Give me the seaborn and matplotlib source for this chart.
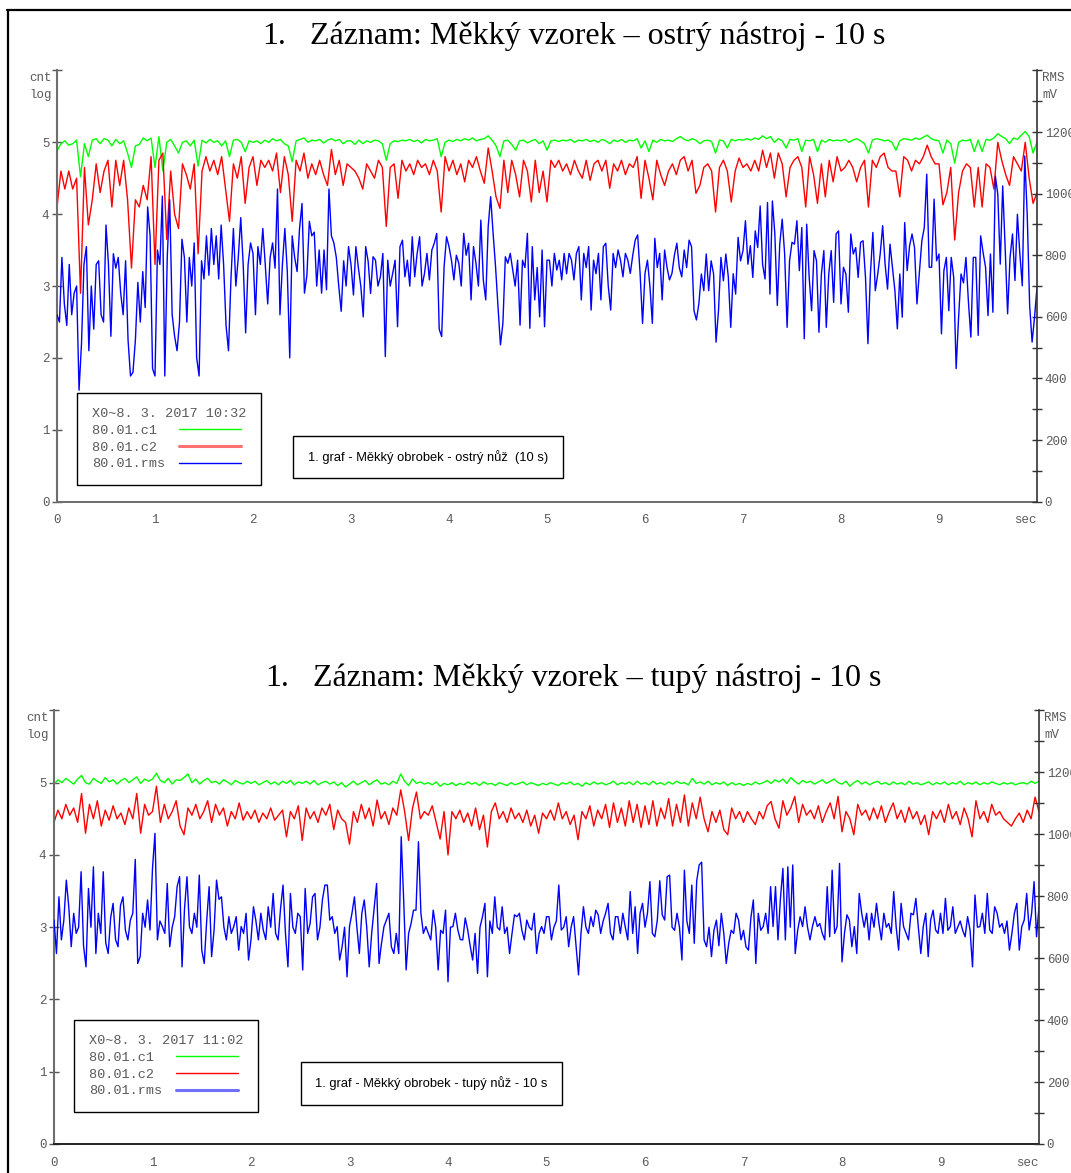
import numpy as np
import matplotlib
matplotlib.use("Agg")
import matplotlib.pyplot as plt
import seaborn as sns
from matplotlib.lines import Line2D

# ---------------- DATA ----------------
series_labels = ["80.01.c1", "80.01.c2", "80.01.rms"]
legend_titles = ["X0~8. 3. 2017 10:32", "X0~8. 3. 2017 11:02"]
chart_titles = ["Záznam: Měkký vzorek – ostrý nástroj - 10 s",
                "Záznam: Měkký vzorek – tupý nástroj - 10 s"]
box_texts = ["1. graf - Měkký obrobek - ostrý nůž  (10 s)",
             "1. graf - Měkký obrobek - tupý nůž - 10 s"]
x_ticklabels = ["0", "1", "2", "3", "4", "5", "6", "7", "8", "9", "sec"]
left_ticklabels = ["0", "1", "2", "3", "4", "5", ""]

# Chart 1 (sharp tool): c1, c2 in log cnt (0.04 s step), rms in mV (0.025 s step)
top_c1 = [4.88, 4.98, 5.02, 4.96, 4.98, 5.03, 4.52, 4.98, 4.8, 5.03, 5.05, 4.98, 5.05, 5.03, 4.95, 5.04, 4.98, 5.02, 4.85, 4.65, 4.95, 4.97, 5.06, 5.02, 5.06,
          4.65, 5.08, 4.6, 5.0, 5.04, 4.95, 4.85, 5.0, 5.02, 4.95, 5.03, 4.67, 5.03, 4.99, 5.04, 5.0, 5.02, 4.95, 5.02, 4.8, 5.03, 5.04, 5.0, 4.87, 5.02,
          5.0, 5.02, 4.98, 5.03, 5.0, 5.05, 5.02, 5.04, 4.98, 4.95, 4.73, 5.02, 5.04, 5.06, 5.0, 5.03, 5.02, 5.04, 4.99, 5.03, 5.05, 5.02, 5.04, 4.98, 5.02,
          5.02, 4.97, 5.03, 4.98, 5.02, 5.0, 5.03, 5.02, 4.98, 4.75, 4.98, 5.02, 5.01, 5.03, 5.02, 5.04, 5.01, 5.03, 4.99, 5.04, 5.02, 5.03, 5.05, 4.8, 5.0,
          5.03, 5.01, 5.04, 5.02, 5.05, 5.03, 5.06, 5.02, 5.04, 5.05, 5.09, 5.03, 4.95, 4.8, 5.02, 5.03, 4.97, 4.89, 5.02, 5.03, 4.99, 5.02, 5.04, 4.98, 5.02,
          4.89, 5.02, 5.03, 5.01, 5.03, 5.02, 5.04, 5.0, 5.03, 5.02, 5.04, 5.01, 5.03, 5.0, 5.04, 5.02, 4.98, 5.03, 5.01, 5.04, 5.0, 5.03, 5.02, 5.05, 4.92,
          5.02, 4.87, 5.03, 5.0, 5.04, 5.02, 5.03, 5.01, 5.05, 5.08, 5.04, 5.02, 5.05, 5.03, 4.98, 5.02, 5.03, 5.01, 4.85, 5.03, 5.02, 4.92, 5.04, 5.02, 5.04,
          5.03, 5.05, 5.03, 5.06, 5.04, 5.09, 5.05, 5.08, 5.0, 5.05, 5.02, 4.92, 5.04, 5.03, 5.05, 4.87, 5.03, 5.02, 5.04, 4.87, 5.03, 5.0, 5.04, 5.02, 5.03,
          5.02, 5.04, 5.0, 5.03, 5.05, 5.02, 4.98, 4.85, 5.03, 5.05, 5.04, 5.02, 5.03, 5.0, 4.89, 5.02, 5.05, 5.04, 5.03, 5.06, 5.04, 5.07, 5.1, 5.05, 5.03,
          5.02, 4.85, 5.03, 4.98, 4.71, 5.0, 5.03, 5.02, 5.04, 4.87, 5.03, 4.87, 5.04, 5.03, 5.06, 5.12, 5.08, 5.05, 4.98, 5.06, 5.04, 5.1, 5.15, 5.08, 4.85, 5.0]

top_c2 = [4.1, 4.6, 4.35, 4.6, 4.35, 4.5, 2.9, 4.65, 3.85, 4.2, 4.7, 4.3, 4.6, 4.75, 4.1, 4.75, 4.4, 4.75, 4.2, 3.25, 4.2, 4.1, 4.4, 4.2, 4.8,
          3.3, 4.75, 4.85, 3.65, 4.6, 4.0, 3.8, 4.7, 4.55, 4.35, 4.7, 3.45, 4.6, 4.8, 4.6, 4.75, 4.55, 4.8, 4.35, 3.9, 4.7, 4.5, 4.8, 4.15, 4.65,
          4.8, 4.4, 4.75, 4.65, 4.75, 4.6, 4.85, 4.3, 4.8, 4.55, 3.9, 4.75, 4.6, 4.85, 4.5, 4.7, 4.55, 4.75, 4.55, 4.4, 4.9, 4.55, 4.75, 4.4, 4.7,
          4.65, 4.6, 4.5, 4.35, 4.7, 4.6, 4.5, 4.75, 4.65, 3.83, 4.65, 4.7, 4.22, 4.75, 4.6, 4.7, 4.55, 4.75, 4.65, 4.7, 4.55, 4.75, 4.6, 4.03, 4.8,
          4.6, 4.75, 4.55, 4.7, 4.45, 4.75, 4.65, 4.8, 4.6, 4.43, 4.92, 4.6, 4.24, 4.08, 4.75, 4.3, 4.75, 4.55, 4.24, 4.75, 4.6, 4.17, 4.75, 4.3, 4.6,
          4.17, 4.75, 4.65, 4.75, 4.6, 4.7, 4.55, 4.75, 4.6, 4.5, 4.75, 4.47, 4.7, 4.75, 4.6, 4.75, 4.36, 4.7, 4.6, 4.75, 4.55, 4.7, 4.65, 4.8, 4.22,
          4.75, 4.5, 4.2, 4.75, 4.55, 4.4, 4.6, 4.7, 4.55, 4.75, 4.8, 4.6, 4.75, 4.29, 4.4, 4.65, 4.7, 4.6, 4.03, 4.65, 4.75, 4.6, 4.17, 4.6, 4.78,
          4.65, 4.7, 4.6, 4.75, 4.6, 4.89, 4.65, 4.85, 4.5, 4.85, 4.7, 4.24, 4.65, 4.75, 4.8, 4.65, 4.1, 4.8, 4.55, 4.15, 4.7, 4.24, 4.75, 4.45, 4.8,
          4.6, 4.65, 4.75, 4.65, 4.45, 4.65, 4.75, 4.1, 4.75, 4.65, 4.8, 4.85, 4.65, 4.6, 4.6, 4.24, 4.8, 4.75, 4.6, 4.75, 4.7, 4.8, 4.96, 4.8, 4.7,
          4.7, 4.13, 4.3, 4.65, 3.64, 4.3, 4.6, 4.7, 4.65, 4.1, 4.65, 4.1, 4.7, 4.65, 4.35, 5.0, 4.75, 4.55, 4.4, 4.8, 4.7, 4.6, 5.0, 4.5, 4.15, 4.3]

top_rms = [607, 583, 793, 642, 572, 770, 607, 677, 700, 362, 513, 770, 828, 490, 700, 560, 770, 782, 607, 583,
           898, 770, 537, 805, 758, 793, 677, 607, 782, 525, 408, 420, 525, 712, 583, 747, 630, 957, 863, 432, 408,
           817, 770, 992, 408, 793, 980, 607, 537, 490, 583, 852, 793, 583, 793, 700, 840, 467, 408, 782, 723,
           863, 735, 887, 770, 863, 723, 898, 770, 572, 490, 723, 887, 700, 793, 922, 770, 548, 770, 840, 805,
           607, 828, 770, 887, 770, 642, 793, 840, 758, 1015, 607, 770, 887, 747, 467, 863, 793, 747, 887, 968,
           677, 735, 910, 863, 875, 700, 817, 677, 817, 688, 1015, 863, 840, 793, 700, 618, 782, 700, 828, 770,
           671, 828, 760, 700, 600, 828, 780, 676, 795, 784, 700, 730, 806, 471, 784, 700, 741, 784, 568, 828,
           849, 730, 784, 700, 860, 730, 806, 860, 700, 741, 806, 720, 817, 839, 871, 560, 536, 763, 860, 828,
           784, 720, 800, 774, 700, 871, 800, 839, 655, 828, 774, 700, 914, 720, 655, 893, 990, 871, 763, 633,
           509, 579, 795, 774, 806, 752, 700, 784, 573, 784, 760, 871, 563, 828, 655, 760, 600, 817, 568, 784,
           784, 700, 806, 752, 784, 720, 806, 740, 806, 784, 720, 806, 828, 655, 806, 760, 828, 622, 784, 740,
           806, 655, 828, 839, 700, 622, 806, 760, 817, 784, 730, 806, 784, 741, 800, 849, 866, 741, 579, 741,
           784, 700, 579, 855, 760, 806, 655, 817, 760, 720, 741, 800, 839, 760, 730, 817, 760, 849, 828, 620,
           590, 644, 739, 685, 804, 685, 782, 739, 518, 620, 793, 717, 804, 730, 566, 740, 674, 858, 782, 815,
           912, 771, 831, 728, 879, 825, 960, 770, 723, 971, 674, 976, 869, 637, 836, 917, 804, 566, 782, 842,
           836, 912, 750, 890, 529, 901, 729, 620, 815, 782, 550, 739, 815, 566, 739, 815, 647, 869, 879, 642,
           761, 739, 615, 869, 804, 825, 728, 842, 847, 728, 513, 739, 874, 685, 739, 804, 896, 771, 690, 836,
           760, 685, 561, 739, 599, 906, 750, 831, 869, 825, 642, 745, 847, 890, 1063, 761, 761, 982, 782, 804,
           545, 750, 793, 620, 793, 728, 432, 599, 739, 710, 793, 650, 534, 793, 793, 540, 863, 809, 761, 604,
           804, 615, 1057, 998, 771, 1025, 825, 610, 793, 869, 718, 933, 804, 701, 1122, 933, 637, 518, 599, 696]

# Chart 2 (blunt tool)
bot_c1 = [4.98, 5.04, 5.0, 5.06, 5.02, 4.98, 5.05, 5.1, 5.0, 4.98, 5.06, 5.02, 4.99, 5.07, 5.01, 5.04, 4.98, 5.03, 5.06, 5.0, 5.04, 5.08, 4.99, 5.05, 5.02,
          5.05, 5.13, 5.03, 5.0, 5.06, 4.98, 5.04, 5.03, 5.07, 5.12, 5.0, 5.05, 4.98, 5.03, 5.06, 5.0, 5.02, 4.98, 5.04, 5.01, 4.97, 5.03, 5.0, 4.98, 5.02,
          4.99, 5.02, 4.97, 5.0, 5.03, 4.98, 5.01, 4.97, 5.02, 4.99, 5.03, 4.97, 5.01, 4.99, 5.02, 4.98, 5.03, 4.97, 5.0, 5.02, 4.98, 5.01, 4.96, 5.0, 4.94,
          4.98, 5.02, 4.97, 5.0, 5.03, 4.97, 5.01, 5.04, 4.98, 5.0, 4.97, 5.02, 4.99, 5.12, 5.02, 4.96, 5.05, 4.99, 5.01, 4.98, 5.0, 4.97, 5.01, 4.95, 4.99,
          4.97, 5.0, 4.96, 4.99, 4.97, 5.01, 4.98, 5.0, 4.96, 5.01, 4.98, 4.99, 4.96, 5.0, 4.98, 4.96, 5.0, 4.97, 4.99, 5.01, 4.97, 5.0, 4.98, 4.96, 4.99,
          4.97, 5.0, 4.98, 4.96, 5.0, 4.98, 5.01, 4.97, 4.99, 4.95, 5.0, 4.97, 5.01, 4.98, 5.0, 4.97, 4.99, 5.02, 4.97, 5.0, 4.98, 5.01, 4.97, 5.02, 4.98,
          5.0, 4.97, 5.02, 4.98, 5.0, 4.97, 5.01, 4.98, 5.02, 4.99, 5.0, 4.97, 5.06, 4.99, 5.01, 4.98, 5.02, 4.97, 5.0, 4.98, 5.01, 4.96, 5.0, 4.97, 4.99,
          4.96, 4.99, 4.97, 5.01, 4.98, 5.0, 5.03, 4.99, 5.04, 5.01, 5.05, 4.99, 5.07, 5.02, 4.98, 5.03, 5.0, 5.02, 4.98, 5.01, 5.04, 4.99, 5.02, 5.05, 5.0,
          4.98, 5.02, 4.95, 5.0, 5.03, 4.98, 5.01, 4.97, 5.0, 5.02, 4.98, 5.0, 4.97, 5.01, 4.98, 5.0, 4.97, 5.02, 4.98, 5.0, 4.97, 4.99, 5.01, 4.97, 5.0,
          4.98, 5.01, 4.97, 5.0, 4.98, 5.02, 4.97, 5.0, 4.98, 5.01, 4.97, 5.0, 4.98, 5.01, 4.99, 4.97, 5.0, 4.98, 5.0, 4.97, 4.99, 5.0, 4.98, 5.02, 4.99, 5.02]

bot_c2 = [4.45, 4.62, 4.5, 4.7, 4.55, 4.65, 4.45, 4.85, 4.3, 4.7, 4.5, 4.75, 4.4, 4.62, 4.48, 4.68, 4.5, 4.58, 4.42, 4.65, 4.5, 4.85, 4.3, 4.7, 4.55,
          4.6, 4.95, 4.45, 4.7, 4.5, 4.6, 4.75, 4.4, 4.28, 4.65, 4.55, 4.7, 4.5, 4.6, 4.75, 4.45, 4.7, 4.55, 4.65, 4.4, 4.6, 4.5, 4.72, 4.48, 4.6,
          4.5, 4.62, 4.45, 4.58, 4.5, 4.65, 4.48, 4.55, 4.62, 4.25, 4.6, 4.5, 4.68, 4.2, 4.65, 4.5, 4.6, 4.45, 4.65, 4.55, 4.7, 4.35, 4.62, 4.5, 4.45,
          4.15, 4.6, 4.45, 4.7, 4.5, 4.65, 4.4, 4.76, 4.5, 4.6, 4.42, 4.65, 4.55, 4.9, 4.6, 4.2, 4.65, 4.87, 4.5, 4.6, 4.55, 4.68, 4.45, 4.22, 4.6,
          4.0, 4.6, 4.5, 4.62, 4.45, 4.58, 4.4, 4.65, 4.35, 4.55, 4.11, 4.6, 4.72, 4.5, 4.6, 4.45, 4.65, 4.5, 4.58, 4.45, 4.62, 4.4, 4.55, 4.3, 4.58,
          4.5, 4.62, 4.48, 4.72, 4.5, 4.6, 4.42, 4.55, 4.21, 4.6, 4.5, 4.68, 4.4, 4.62, 4.5, 4.7, 4.38, 4.72, 4.45, 4.65, 4.4, 4.75, 4.45, 4.7, 4.38,
          4.68, 4.42, 4.75, 4.4, 4.65, 4.5, 4.78, 4.4, 4.7, 4.45, 4.83, 4.4, 4.72, 4.5, 4.8, 4.5, 4.32, 4.6, 4.45, 4.62, 4.35, 4.28, 4.65, 4.5, 4.6,
          4.45, 4.6, 4.5, 4.42, 4.6, 4.5, 4.68, 4.74, 4.5, 4.37, 4.75, 4.55, 4.65, 4.81, 4.45, 4.7, 4.55, 4.62, 4.5, 4.68, 4.45, 4.6, 4.72, 4.5, 4.81,
          4.32, 4.6, 4.5, 4.28, 4.7, 4.55, 4.62, 4.48, 4.65, 4.5, 4.68, 4.45, 4.6, 4.72, 4.5, 4.62, 4.45, 4.66, 4.5, 4.6, 4.42, 4.55, 4.28, 4.6, 4.5,
          4.62, 4.45, 4.7, 4.5, 4.6, 4.42, 4.65, 4.5, 4.25, 4.75, 4.5, 4.6, 4.45, 4.7, 4.55, 4.6, 4.5, 4.45, 4.4, 4.5, 4.58, 4.45, 4.62, 4.5, 4.8, 4.6]

bot_rms = [723, 615, 798, 659, 723, 852, 766, 637, 745, 680, 700, 879, 640, 572, 825, 700, 895, 615, 745, 680,
           879, 650, 615, 730, 777, 660, 637, 770, 798, 690, 659, 723, 745, 919, 583, 605, 745, 700, 788, 691, 890,
           1003, 659, 720, 702, 680, 841, 637, 700, 734, 831, 863, 572, 760, 863, 702, 680, 745, 700, 868, 626,
           583, 720, 831, 605, 690, 852, 790, 798, 700, 659, 734, 680, 702, 734, 626, 702, 680, 745, 594, 660,
           766, 720, 659, 745, 690, 660, 766, 700, 809, 680, 659, 760, 836, 680, 572, 809, 700, 680, 745, 734,
           562, 825, 680, 712, 798, 809, 659, 700, 788, 836, 836, 723, 734, 680, 702, 594, 637, 700, 540, 702,
           745, 798, 700, 615, 745, 788, 700, 572, 680, 760, 841, 583, 648, 702, 723, 745, 637, 615, 680, 615,
           992, 788, 562, 680, 712, 755, 755, 976, 745, 680, 702, 680, 659, 755, 700, 562, 690, 680, 755, 524,
           700, 702, 745, 691, 660, 659, 730, 691, 640, 594, 680, 551, 700, 734, 777, 540, 720, 680, 798, 700,
           691, 766, 680, 700, 615, 680, 740, 734, 745, 690, 659, 723, 700, 691, 745, 615, 680, 702, 680, 734,
           734, 659, 700, 720, 836, 691, 700, 734, 637, 700, 734, 640, 546, 680, 766, 700, 680, 734, 702, 755,
           740, 680, 720, 745, 777, 680, 659, 734, 734, 680, 745, 700, 659, 815, 680, 766, 615, 745, 777, 700,
           745, 847, 680, 669, 723, 850, 740, 723, 863, 868, 700, 690, 745, 700, 594, 884, 720, 680, 836, 648,
           850, 901, 910, 659, 637, 700, 605, 690, 723, 640, 745, 680, 583, 648, 690, 680, 745, 723, 659, 690,
           637, 626, 730, 788, 583, 745, 690, 702, 745, 680, 831, 702, 831, 659, 793, 890, 659, 895, 700, 901,
           615, 690, 734, 702, 766, 700, 659, 702, 734, 702, 712, 680, 659, 831, 669, 884, 680, 702, 906, 588,
           680, 740, 723, 637, 702, 615, 809, 745, 700, 745, 659, 745, 700, 777, 712, 659, 745, 700, 712, 680,
           815, 700, 626, 777, 702, 680, 659, 745, 740, 793, 700, 615, 702, 745, 605, 723, 755, 691, 680, 745,
           680, 793, 690, 702, 766, 680, 700, 720, 690, 669, 734, 691, 572, 804, 700, 702, 745, 680, 809, 691,
           680, 766, 745, 700, 712, 680, 720, 626, 680, 745, 777, 626, 702, 723, 809, 691, 745, 847, 669, 766]

# ---------------- STYLE / LAYOUT ----------------
sns.set_style("white")
plt.rcParams['font.family'] = ['Liberation Mono', 'DejaVu Sans Mono']

W, H = 1071, 1173
fig = plt.figure(figsize=(W / 100, H / 100), dpi=100)


def fx(px):
    return px / W


def fy(py):
    return 1 - py / H


GREEN, RED, BLUE = "#00ff00", "#ff0000", "#0000ff"
GRAY_TXT = "#5a5a5a"
MONO = {"family": "Liberation Mono", "size": 9}
LEGMONO = {"family": "Liberation Mono", "size": 9.7}


def panel(left, right, top, bottom, c1, c2, rms, leg_title, leg_xy, box_text, box_xy,
          title, title_base, num_x, title_x, bottom_spine_color, unit_y, soft_idx, soft_color):
    ax = fig.add_axes([fx(left), fy(bottom), (right - left) / W, (bottom - top) / H])
    ax.set_xlim(0, 10)
    ax.set_ylim(0, 6)
    ax.patch.set_alpha(0)
    ax2 = ax.twinx()
    ax2.set_ylim(0, 1400)

    sns.lineplot(x=np.linspace(0, 10, len(c1)), y=c1, ax=ax, color=GREEN, lw=1.0,
                 estimator=None, errorbar=None, legend=False)
    sns.lineplot(x=np.linspace(0, 10, len(c2)), y=c2, ax=ax, color=RED, lw=1.0,
                 estimator=None, errorbar=None, legend=False)
    sns.lineplot(x=np.linspace(0, 10, len(rms)), y=rms, ax=ax2, color=BLUE, lw=1.0,
                 estimator=None, errorbar=None, legend=False)
    ax.set_xlabel("")
    ax.set_ylabel("")
    ax2.set_ylabel("")

    for s in ["top", "right"]:
        ax.spines[s].set_visible(False)
    for s in ["top", "left", "bottom"]:
        ax2.spines[s].set_visible(False)
    ax.spines["left"].set_color("#6e6e6e")
    ax.spines["left"].set_linewidth(1.5)
    ax.spines["bottom"].set_color(bottom_spine_color)
    ax.spines["bottom"].set_linewidth(1.4)
    ax2.spines["right"].set_color("#333333")
    ax2.spines["right"].set_linewidth(1.2)

    ax.set_xticks(range(11))
    ax.set_xticklabels(x_ticklabels, fontdict=MONO, color=GRAY_TXT)
    ax.get_xticklabels()[-1].set_ha("right")
    ax.tick_params(axis="x", direction="inout", length=8, width=1, color="#333333", pad=5)
    ax.set_yticks(range(7))
    ax.set_yticklabels(left_ticklabels, fontdict=MONO, color=GRAY_TXT)
    ax.tick_params(axis="y", direction="inout", length=7, width=1, color="#555555", pad=2)
    rt = list(range(0, 1401, 100))
    ax2.set_yticks(rt)
    ax2.set_yticklabels([str(v) if (v % 200 == 0 and v <= 1200) else "" for v in rt],
                        fontdict=MONO, color=GRAY_TXT)
    ax2.tick_params(axis="y", direction="inout", length=7, width=1, color="#333333", pad=2)

    # unit labels
    fig.text(fx(left - 5), fy(unit_y), "cnt", ha="right", va="center", color=GRAY_TXT, **MONO)
    fig.text(fx(left - 5), fy(unit_y + 17), "log", ha="right", va="center", color=GRAY_TXT, **MONO)
    fig.text(fx(right + 5), fy(unit_y), "RMS", ha="left", va="center", color=GRAY_TXT, **MONO)
    fig.text(fx(right + 5), fy(unit_y + 17), "mV", ha="left", va="center", color=GRAY_TXT, **MONO)

    # legend (labels padded to equal width so the monospaced text is left aligned)
    handles = []
    for i, ln in enumerate([ax.lines[0], ax.lines[1], ax2.lines[0]]):
        if i == soft_idx:
            handles.append(Line2D([], [], color=soft_color, lw=2.2))
        else:
            handles.append(ln)
    width = max(len(s) for s in series_labels)
    labels = [s.ljust(width) for s in series_labels]
    leg = fig.legend(handles, labels, title=leg_title, loc="upper left",
                     bbox_to_anchor=(fx(leg_xy[0]), fy(leg_xy[1])), bbox_transform=fig.transFigure,
                     markerfirst=False, frameon=True, fancybox=False, edgecolor="black",
                     framealpha=1, borderaxespad=0, prop=LEGMONO, title_fontproperties=LEGMONO,
                     alignment="left", handlelength=4.6, handletextpad=1.06, borderpad=1.1,
                     labelspacing=0.33, labelcolor=GRAY_TXT)
    leg.get_title().set_color(GRAY_TXT)
    leg.get_frame().set_linewidth(1.0)

    # caption box
    fig.text(fx(box_xy[0]), fy(box_xy[1]), box_text, ha="center", va="center",
             fontsize=9.3, family="Liberation Sans", color="black",
             bbox=dict(boxstyle="square,pad=1.12", fc="white", ec="black", lw=1.0))

    # title
    fig.text(fx(num_x), fy(title_base), "1.", ha="left", va="baseline",
             family="Liberation Serif", fontsize=23, color="black")
    fig.text(fx(title_x), fy(title_base), title, ha="left", va="baseline",
             family="Liberation Serif", fontsize=23, color="black")
    return ax, ax2


panel(57, 1037, 70.4, 501.7, top_c1, top_c2, top_rms, legend_titles[0], (77, 393),
      box_texts[0], (428, 457), chart_titles[0], 44, 262, 310, "#6e6e6e", 78, 1, "#ff7070")
panel(54, 1039, 710.4, 1144, bot_c1, bot_c2, bot_rms, legend_titles[1], (74, 1020),
      box_texts[1], (431.5, 1083.5), chart_titles[1], 686, 265, 313, "#222222", 718, 2, "#7070ff")

# page frame
fig.add_artist(Line2D([fx(7), 1.0], [fy(10), fy(10)], transform=fig.transFigure, color="black", lw=1.6))
fig.add_artist(Line2D([fx(8), fx(8)], [fy(10), 0.0], transform=fig.transFigure, color="black", lw=1.6))

fig.savefig("out.png", dpi=100, facecolor="white")
